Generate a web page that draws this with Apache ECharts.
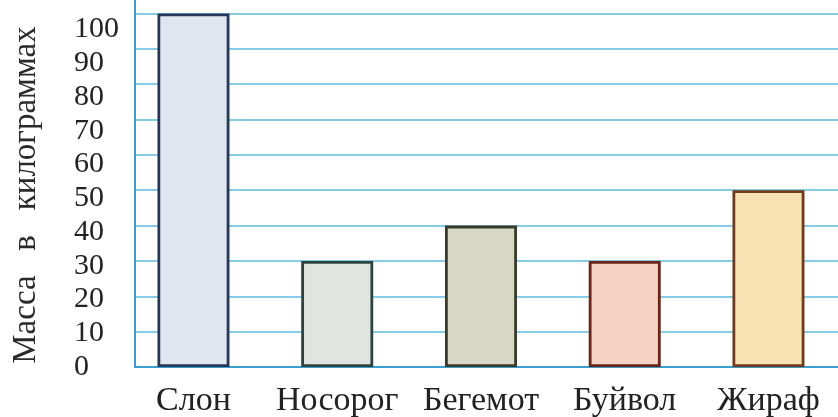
<!DOCTYPE html>
<html>
<head>
<meta charset="utf-8">
<script src="https://cdn.jsdelivr.net/npm/echarts@6/dist/echarts.min.js"></script>
<style>
html,body{margin:0;padding:0;background:#fff;}
#chart{width:838px;height:417px;}
</style>
</head>
<body>
<div id="chart"></div>
<script>
const categories = ['Слон', 'Носорог', 'Бегемот', 'Буйвол', 'Жираф'];
const masses = [100, 30, 40, 30, 50];
const fillColors = ['#dfe6ef', '#e1e4e1', '#d7d8c6', '#f3d1c3', '#f8e2b2'];
const borderColors = ['#26385a', '#2b4440', '#3a3a2a', '#6a2418', '#6e3b1c'];
const yTicks = [0, 10, 20, 30, 40, 50, 60, 70, 80, 90, 100];
const yName = 'Масса   в   килограммах';

const serif = '"Liberation Serif", "DejaVu Serif", serif';
const chart = echarts.init(document.getElementById('chart'));

chart.setOption({
  backgroundColor: '#ffffff',
  animation: false,
  grid: [
    { left: 135, right: -10, top: -1, bottom: 50, outerBoundsMode: 'none', containLabel: false },
    { left: 121.6, right: -2.35, top: -1, bottom: 50, outerBoundsMode: 'none', containLabel: false }
  ],
  xAxis: [
    {
      gridIndex: 0, type: 'value', min: 0, max: 1,
      axisLine: { show: true, onZero: false, lineStyle: { color: '#3a9fd0', width: 2 } },
      axisTick: { show: false }, axisLabel: { show: false }, splitLine: { show: false }
    },
    {
      gridIndex: 1, type: 'category', data: categories,
      axisLine: { show: false }, axisTick: { show: false },
      axisLabel: { interval: 0, margin: 17, fontFamily: serif, fontSize: 34, color: '#222' }
    }
  ],
  yAxis: [
    {
      gridIndex: 0, type: 'value', position: 'left', min: 0, max: 104.1, interval: 10,
      name: yName, nameLocation: 'middle', nameGap: 92, nameRotate: 90,
      nameTextStyle: { fontFamily: serif, fontSize: 33, color: '#2a2a2a', padding: [0, 24, 0, 0] },
      axisLine: { show: true, onZero: false, lineStyle: { color: '#3a9fd0', width: 2 } },
      axisTick: { show: false }, axisLabel: { show: false },
      splitLine: { show: true, lineStyle: { color: '#5fbbdf', width: 1.5 } }
    },
    {
      gridIndex: 0, type: 'value', position: 'left', min: 0, max: 109, interval: 10,
      axisLine: { show: false }, axisTick: { show: false }, splitLine: { show: false },
      axisLabel: {
        margin: 61, align: 'left', fontFamily: serif, fontSize: 30, color: '#222',
        formatter: function (v) { return yTicks.indexOf(v) >= 0 ? String(v) : ''; }
      }
    },
    {
      gridIndex: 1, type: 'value', min: 0, max: 104.1, show: false
    }
  ],
  series: [
    {
      type: 'bar', xAxisIndex: 1, yAxisIndex: 2,
      barWidth: 72,
      data: masses.map(function (v, i) {
        return {
          value: v,
          itemStyle: { color: fillColors[i], borderColor: borderColors[i], borderWidth: 2.8 }
        };
      })
    }
  ]
});
</script>
</body>
</html>
